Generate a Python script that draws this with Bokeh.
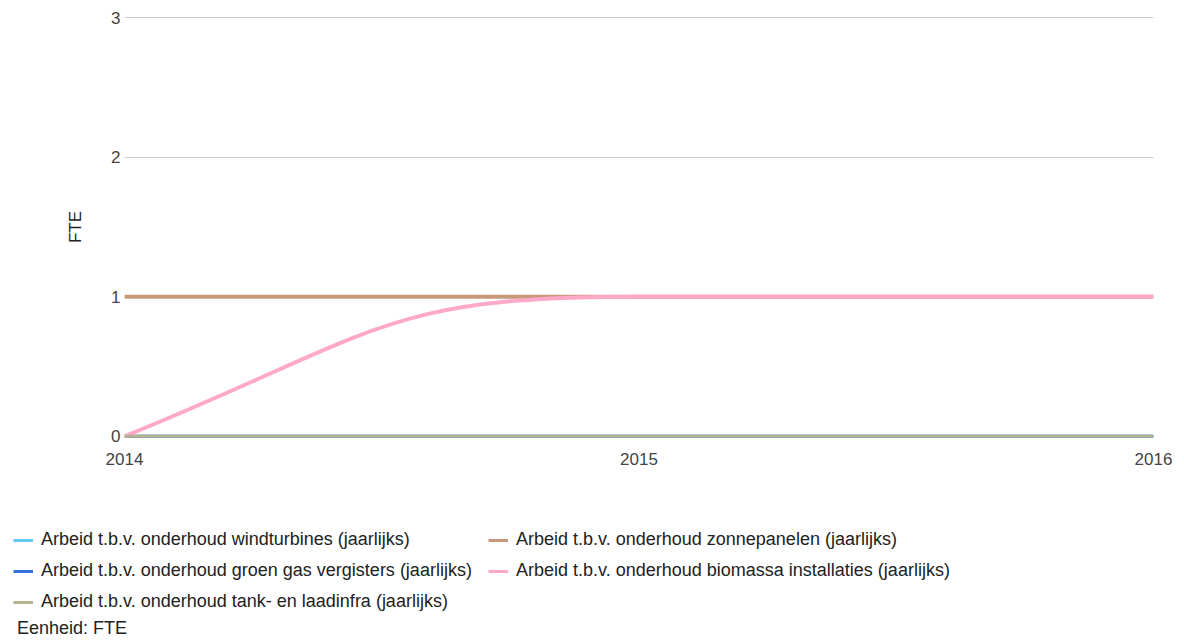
from bokeh.plotting import figure
from bokeh.layouts import column
from bokeh.models import (Range1d, FixedTicker, Legend, LegendItem)
from bokeh.embed import file_html
from bokeh.resources import INLINE

# ---- data ----
years = [2014, 2015, 2016]
series_names = [
    "Arbeid t.b.v. onderhoud windturbines (jaarlijks)",
    "Arbeid t.b.v. onderhoud zonnepanelen (jaarlijks)",
    "Arbeid t.b.v. onderhoud groen gas vergisters (jaarlijks)",
    "Arbeid t.b.v. onderhoud biomassa installaties (jaarlijks)",
    "Arbeid t.b.v. onderhoud tank- en laadinfra (jaarlijks)",
]
windturbines = [0, 0, 0]
zonnepanelen = [1, 1, 1]
groen_gas = [0, 0, 0]
biomassa = [0, 1, 1]
tank_laadinfra = [0, 0, 0]
y_ticks = [0, 1, 2, 3]
x_ticks = [2014, 2015, 2016]
unit_label = "Eenheid: FTE"
axis_title = "FTE"

series_values = [windturbines, zonnepanelen, groen_gas, biomassa, tank_laadinfra]
colors = ["#66c8f7", "#c9977a", "#3273dc", "#ffa9c9", "#b5b28f"]
widths = [3, 4, 3, 4, 3]

FONT = "Liberation Sans"
HANDLE = 0.5  # smoothing handle length (fraction of segment width)
NAN = float("nan")


def monotone_tangents(xs, ys):
    """d3 monotoneX-style tangents."""
    n = len(xs)
    m = [0.0] * n
    sign = lambda v: (v > 0) - (v < 0)
    for i in range(1, n - 1):
        h0 = xs[i] - xs[i - 1]
        h1 = xs[i + 1] - xs[i]
        s0 = (ys[i] - ys[i - 1]) / h0
        s1 = (ys[i + 1] - ys[i]) / h1
        p = (s0 * h1 + s1 * h0) / (h0 + h1)
        m[i] = (sign(s0) + sign(s1)) * min(abs(s0), abs(s1), 0.5 * abs(p))
    if n > 2:
        h = xs[1] - xs[0]
        m[0] = (3 * (ys[1] - ys[0]) / h - m[1]) / 2
        h = xs[-1] - xs[-2]
        m[-1] = (3 * (ys[-1] - ys[-2]) / h - m[-2]) / 2
    elif n == 2:
        m[0] = m[1] = (ys[1] - ys[0]) / (xs[1] - xs[0])
    return m


def bezier_segments(xs, ys):
    m = monotone_tangents(xs, ys)
    d = dict(x0=[], y0=[], x1=[], y1=[], cx0=[], cy0=[], cx1=[], cy1=[])
    for i in range(len(xs) - 1):
        h = xs[i + 1] - xs[i]
        d["x0"].append(xs[i]); d["y0"].append(ys[i])
        d["x1"].append(xs[i + 1]); d["y1"].append(ys[i + 1])
        d["cx0"].append(xs[i] + HANDLE * h); d["cy0"].append(ys[i] + m[i] * HANDLE * h)
        d["cx1"].append(xs[i + 1] - HANDLE * h); d["cy1"].append(ys[i + 1] - m[i + 1] * HANDLE * h)
    return d


p = figure(
    frame_width=1029, frame_height=427,
    min_border_left=124, min_border_right=23, min_border_top=13, min_border_bottom=47,
    x_range=Range1d(2014, 2016), y_range=Range1d(-0.03, 3.03),
    output_backend="svg", toolbar_location=None,
)
p.outline_line_color = None
p.background_fill_color = "white"
p.border_fill_color = "white"

p.xgrid.grid_line_color = None
p.ygrid.grid_line_color = "#cccccc"
p.ygrid.grid_line_width = 1

p.yaxis.ticker = FixedTicker(ticks=y_ticks)
p.xaxis.ticker = FixedTicker(ticks=x_ticks)
p.xaxis.major_label_overrides = {t: str(t) for t in x_ticks}
for ax in (p.xaxis[0], p.yaxis[0]):
    ax.axis_line_color = None
    ax.major_tick_line_color = None
    ax.minor_tick_line_color = None
    ax.major_tick_out = 0
    ax.major_tick_in = 0
    ax.major_label_text_font = FONT
    ax.major_label_text_font_size = "17px"
    ax.major_label_text_color = "#444444"
p.yaxis.major_label_standoff = 4
p.xaxis.major_label_standoff = 12
p.yaxis.axis_label = axis_title
p.yaxis.axis_label_text_font = FONT
p.yaxis.axis_label_text_font_size = "17px"
p.yaxis.axis_label_text_font_style = "normal"
p.yaxis.axis_label_text_color = "#222222"
p.yaxis.axis_label_standoff = 23

for vals, col, w in zip(series_values, colors, widths):
    p.bezier(x0="x0", y0="y0", x1="x1", y1="y1", cx0="cx0", cy0="cy0",
             cx1="cx1", cy1="cy1", source=bezier_segments(years, vals),
             line_color=col, line_width=w)

# ---- legend strip (separate, unclipped area) ----
q = figure(
    frame_width=1176, frame_height=154, min_border=0,
    x_range=Range1d(0, 1), y_range=Range1d(0, 1),
    x_axis_location=None, y_axis_location=None,
    output_backend="svg", toolbar_location=None,
)
q.outline_line_color = None
q.xgrid.visible = False
q.ygrid.visible = False

# legend-only swatch renderers (no visible data)
swatches = [q.line(x=[NAN, NAN], y=[NAN, NAN], line_color=c, line_width=3) for c in colors]
blank = q.line(x=[NAN, NAN], y=[NAN, NAN], line_alpha=0)


def make_legend(idx, loc):
    items = [LegendItem(label=series_names[i], renderers=[swatches[i]]) for i in idx]
    return Legend(items=items, location=loc, orientation="vertical",
                  glyph_width=20, glyph_height=20, label_height=20,
                  label_standoff=8, spacing=10, padding=0, margin=0,
                  border_line_color=None, background_fill_alpha=0,
                  label_text_font=FONT, label_text_font_size="18px",
                  label_text_color="#222222")


q.add_layout(make_legend([0, 2, 4], (13, 29)), "center")
q.add_layout(make_legend([1, 3], (488, 60)), "center")
q.add_layout(Legend(items=[LegendItem(label=unit_label, renderers=[blank])],
                    location=(17, 2), glyph_width=0, glyph_height=18, label_height=18,
                    label_standoff=0, padding=0, margin=0,
                    border_line_color=None, background_fill_alpha=0,
                    label_text_font=FONT, label_text_font_size="18px",
                    label_text_color="#222222"), "center")

layout = column(p, q, spacing=0)
open("out.html", "w").write(file_html(layout, INLINE))
